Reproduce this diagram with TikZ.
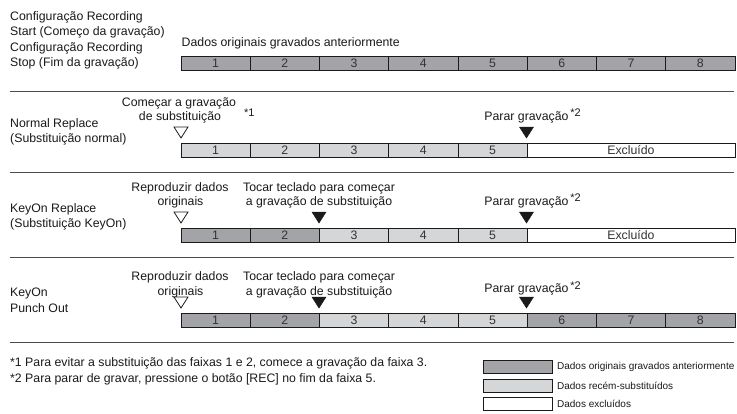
\documentclass[tikz,border=0pt]{standalone}
\usepackage{fontspec}
\setmainfont{Liberation Sans}
\definecolor{darkg}{HTML}{A3A4A8}
\definecolor{lightg}{HTML}{D5D6D8}
\definecolor{txtg}{HTML}{1A1A1A}
\definecolor{numg}{HTML}{333333}
\newcommand\fs[1]{\fontsize{#1}{#1}\selectfont}
\begin{document}
\begin{tikzpicture}[x=1pt,y=-1pt,
  seg/.style={draw=txtg, line width=0.9pt, minimum width=69.25pt, minimum height=13.5pt,
    inner sep=0pt, anchor=north west, font=\fs{12.3}, text=numg},
  darkseg/.style={seg, fill=darkg},
  lightseg/.style={seg, fill=lightg},
  exclseg/.style={seg, fill=white, minimum width=208pt},
  sepline/.style={draw=black!70, line width=1pt},
  lbl/.style={anchor=base west, inner sep=0pt, font=\fs{12.3}, text=txtg},
  ctr/.style={anchor=base, inner sep=0pt, font=\fs{12.3}, text=txtg},
  star/.style={anchor=base west, inner sep=0pt, font=\fs{11}, text=txtg},
  hollowtri/.style={draw=txtg, line width=0.8pt, fill=white, line join=miter},
  filltri/.style={draw=txtg, line width=0.5pt, fill=txtg, line join=miter},
  legbox/.style={draw=txtg, line width=0.9pt, minimum width=69pt, minimum height=13pt,
    inner sep=0pt, anchor=north west},
  legtxt/.style={anchor=west, inner sep=0pt, font=\fs{10}, text=txtg}
]
\useasboundingbox[fill=white] (0,0) rectangle (737,413);
\newcommand\trdown[3]{\draw[#1] (#2-7,#3) -- (#2+7,#3) -- (#2,#3+11) -- cycle;}

% ---------- Row 1 ----------
\node[lbl] (r1a) at (10,20) {Configuração Recording};
\node[lbl] (r1b) at (10,35.5) {Start (Começo da gravação)};
\node[lbl] (r1c) at (10,51) {Configuração Recording};
\node[lbl] (r1d) at (10,66.5) {Stop (Fim da gravação)};
\node[lbl] (r1t) at (181.5,46.5) {Dados originais gravados anteriormente};
\foreach \i in {1,...,8}
  \node[darkseg] (a\i) at ({180.5+69.25*(\i-1)},56) {\i};
\draw[sepline] (10,91) coordinate (s1a) -- (734,91) coordinate (s1b);

% ---------- Row 2 ----------
\node[lbl] (r2a) at (10,127) {Normal Replace};
\node[lbl] (r2b) at (10,142.5) {(Substituição normal)};
\node[ctr] (r2c) at (179,106) {Começar a gravação};
\node[ctr] (r2d) at (180,120) {de substituição};
\node[star] (r2s) at (244,116.5) {*1};
\node[ctr] (r2p) at (526.5,120) {Parar gravação};
\node[star] (r2q) at ([xshift=1.5pt,yshift=3.5pt]r2p.base east) {*2};
\trdown{hollowtri}{181}{127}
\trdown{filltri}{526.5}{127}
\foreach \i in {1,...,5}
  \node[lightseg] (b\i) at ({180.5+69.25*(\i-1)},143) {\i};
\node[exclseg] (bx) at (526.5,143) {Excluído};
\draw[sepline] (10,172) coordinate (s2a) -- (734,172) coordinate (s2b);

% ---------- Row 3 ----------
\node[lbl] (r3a) at (10,212) {KeyOn Replace};
\node[lbl] (r3b) at (10,227.5) {(Substituição KeyOn)};
\node[ctr] (r3c) at (180,191) {Reproduzir dados};
\node[ctr] (r3d) at (180.5,205) {originais};
\node[ctr] (r3e) at (319,191) {Tocar teclado para começar};
\node[ctr] (r3f) at (319,205) {a gravação de substituição};
\node[ctr] (r3p) at (526.5,205) {Parar gravação};
\node[star] (r3q) at ([xshift=1.5pt,yshift=3.5pt]r3p.base east) {*2};
\trdown{hollowtri}{181}{212}
\trdown{filltri}{319}{212}
\trdown{filltri}{526.5}{212}
\foreach \i in {1,2}
  \node[darkseg] (c\i) at ({180.5+69.25*(\i-1)},228) {\i};
\foreach \i in {3,4,5}
  \node[lightseg] (c\i) at ({180.5+69.25*(\i-1)},228) {\i};
\node[exclseg] (cx) at (526.5,228) {Excluído};
\draw[sepline] (10,257) coordinate (s3a) -- (734,257) coordinate (s3b);

% ---------- Row 4 ----------
\node[lbl] (r4a) at (10,296.5) {KeyOn};
\node[lbl] (r4b) at (10,312) {Punch Out};
\node[ctr] (r4c) at (180,280.5) {Reproduzir dados};
\node[ctr] (r4d) at (180.5,295) {originais};
\node[ctr] (r4e) at (319,280.5) {Tocar teclado para começar};
\node[ctr] (r4f) at (319,295) {a gravação de substituição};
\node[ctr] (r4p) at (526.5,292.5) {Parar gravação};
\node[star] (r4q) at ([xshift=1.5pt,yshift=3.5pt]r4p.base east) {*2};
\trdown{hollowtri}{181}{297}
\trdown{filltri}{319}{297}
\trdown{filltri}{526.5}{297}
\foreach \i in {1,2}
  \node[darkseg] (d\i) at ({180.5+69.25*(\i-1)},313) {\i};
\foreach \i in {3,4,5}
  \node[lightseg] (d\i) at ({180.5+69.25*(\i-1)},313) {\i};
\foreach \i in {6,7,8}
  \node[darkseg] (d\i) at ({180.5+69.25*(\i-1)},313) {\i};
\draw[sepline] (10,342) coordinate (s4a) -- (734,342) coordinate (s4b);

% ---------- Footnotes ----------
\node[lbl] (f1) at (10,366) {*1 Para evitar a substituição das faixas 1 e 2, comece a gravação da faixa 3.};
\node[lbl] (f2) at (10,382) {*2 Para parar de gravar, pressione o botão [REC] no fim da faixa 5.};

% ---------- Legend ----------
\node[legbox, fill=darkg] (k1) at (483,360) {};
\node[legbox, fill=lightg] (k2) at (483,378.5) {};
\node[legbox, fill=white] (k3) at (483,397) {};
\node[legtxt] (t1) at ([xshift=4pt]k1.east) {Dados originais gravados anteriormente};
\node[legtxt] (t2) at ([xshift=4pt]k2.east) {Dados recém-substituídos};
\node[legtxt] (t3) at ([xshift=4pt]k3.east) {Dados excluídos};
\end{tikzpicture}
\end{document}
